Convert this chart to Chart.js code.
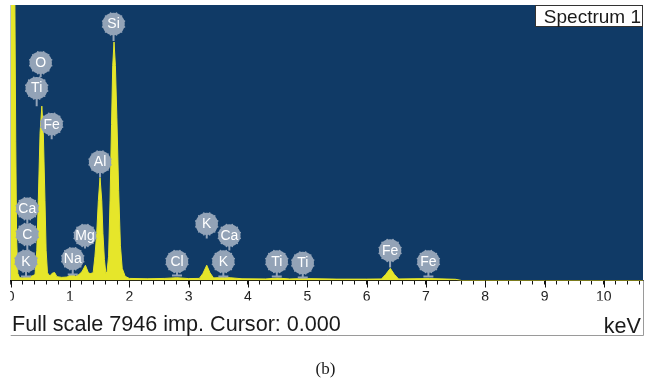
<!DOCTYPE html>
<html><head><meta charset="utf-8">
<style>html,body{margin:0;padding:0;background:#fff;}#wrap{width:651px;height:383px;position:relative;}canvas{display:block;}</style>
<script src="https://cdn.jsdelivr.net/npm/chart.js@4.4.1/dist/chart.umd.min.js"></script>
</head><body><div id="wrap"><canvas id="c" width="651" height="383" style="width:651px;height:383px"></canvas></div>
<script>
// Spectrum (keV, counts)
const energies = [0.00,0.06,0.085,0.10,0.12,0.15,0.20,0.26,0.30,0.36,0.41,0.44,0.465,0.495,0.525,0.55,0.578,0.597,0.62,0.66,0.70,0.74,0.78,0.86,0.95,1.00,1.04,1.09,1.15,1.20,1.26,1.31,1.34,1.39,1.42,1.45,1.478,1.506,1.535,1.555,1.58,1.605,1.625,1.65,1.675,1.70,1.72,1.742,1.765,1.79,1.82,1.85,1.88,1.93,2.00,2.30,2.60,2.80,3.00,3.18,3.24,3.305,3.36,3.42,3.60,3.70,3.90,4.30,4.50,4.70,4.93,5.50,6.00,6.25,6.32,6.40,6.47,6.54,7.06,7.50,7.60,10.66];
const counts   = [12000,11000,4000,1200,200,80,80,120,110,130,170,870,2300,4250,5030,4250,2300,870,220,130,210,230,110,90,100,150,190,120,170,250,440,220,200,220,700,1360,2310,2970,2310,1360,600,200,260,700,2300,4500,6200,6880,6200,4700,2600,1000,350,120,60,50,60,80,55,60,200,440,220,75,90,80,50,45,70,45,55,40,40,45,170,350,170,45,55,35,0,0];
const tickValues = [0,1,2,3,4,5,6,7,8,9,10];
const fullScale = 7946;
const xMin = 0, xMax = 10.66;
// Element markers
const labelNames    = ['Si','O','Ti','Fe','Al','Ca','C','K','Mg','Na','Cl','K','Ca','K','Ti','Ti','Fe','Fe'];
const labelEnergies = [1.734,0.506,0.438,0.691,1.506,0.28,0.28,0.258,1.253,1.046,2.804,3.305,3.686,3.585,4.486,4.924,6.396,7.042];
const labelCounts   = [7398,6280,5549,4508,3419,2072,1329,558,1300,627,549,1633,1300,549,549,506,867,549];
const stemEndCounts = [6907,5867,5029,4075,2977,1647,867,116,925,173,145,1214,867,116,116,87,376,116];
const labelMarkers  = [false,false,false,false,false,false,false,true,false,true,true,false,false,true,true,true,false,true];

const NAVY = '#103a66', YELLOW = '#e6e62a', BADGE = '#93a3b7';
const SANS = '"Liberation Sans", Arial, sans-serif';

const deco = {
  id: 'deco',
  beforeDraw(chart) {
    const {ctx, chartArea: a} = chart;
    ctx.save();
    ctx.fillStyle = '#fff';
    ctx.fillRect(0, 0, chart.width, chart.height);
    ctx.fillStyle = NAVY;
    ctx.fillRect(a.left, a.top, a.right - a.left, a.bottom - a.top);
    ctx.restore();
  },
  afterDatasetsDraw(chart) {
    const {ctx, chartArea: a, scales: {x, y}} = chart;
    ctx.save();
    ctx.beginPath(); ctx.rect(a.left, a.top, a.right - a.left, a.bottom - a.top); ctx.clip();
    const R = 11.2;
    // stems
    ctx.strokeStyle = BADGE; ctx.lineWidth = 2;
    for (let i = 0; i < labelNames.length; i++) {
      const px = x.getPixelForValue(labelEnergies[i]);
      const cy = y.getPixelForValue(labelCounts[i]);
      const ey = y.getPixelForValue(stemEndCounts[i]);
      ctx.beginPath(); ctx.moveTo(px, cy); ctx.lineTo(px, ey); ctx.stroke();
      if (labelMarkers[i]) {
        ctx.beginPath(); ctx.moveTo(px - 5, ey); ctx.lineTo(px + 5, ey); ctx.stroke();
      }
    }
    // badges
    for (let i = 0; i < labelNames.length; i++) {
      const px = x.getPixelForValue(labelEnergies[i]);
      const cy = y.getPixelForValue(labelCounts[i]);
      ctx.fillStyle = BADGE;
      ctx.beginPath(); ctx.arc(px, cy, R, 0, Math.PI * 2); ctx.fill();
      for (let k = 0; k < 12; k++) {
        const ang = k * Math.PI / 6 + Math.PI / 12;
        ctx.beginPath(); ctx.arc(px + Math.cos(ang) * R, cy + Math.sin(ang) * R, 0.9, 0, Math.PI * 2); ctx.fill();
      }
      ctx.fillStyle = '#fff';
      ctx.font = '14px ' + SANS;
      ctx.textAlign = 'center'; ctx.textBaseline = 'middle';
      ctx.fillText(labelNames[i], px, cy + 0.5);
    }
    ctx.restore();
  },
  afterDraw(chart) {
    const {ctx, chartArea: a, scales: {x}} = chart;
    ctx.save();
    // major ticks
    ctx.strokeStyle = '#111'; ctx.lineWidth = 1;
    tickValues.forEach(v => {
      const px = Math.round(x.getPixelForValue(v)) + 0.5;
      ctx.beginPath(); ctx.moveTo(px, a.bottom); ctx.lineTo(px, a.bottom + 7); ctx.stroke();
    });
    // cover left of panel
    ctx.fillStyle = '#fff';
    ctx.fillRect(0, a.bottom + 1, a.left - 0.5, 30);
    // frame
    ctx.strokeStyle = '#9a9a9a'; ctx.lineWidth = 1;
    ctx.beginPath();
    ctx.moveTo(a.right + 0.5, a.bottom); ctx.lineTo(a.right + 0.5, 335.5); ctx.lineTo(a.left, 335.5);
    ctx.stroke();
    // Spectrum 1 box
    ctx.fillStyle = '#fff';
    ctx.fillRect(535, 5, a.right - 535, 22);
    ctx.strokeStyle = '#333';
    ctx.strokeRect(535.5, 5.5, a.right - 536, 21);
    ctx.fillStyle = '#1a1a1a';
    ctx.font = '19px ' + SANS;
    ctx.textAlign = 'right'; ctx.textBaseline = 'alphabetic';
    ctx.fillText('Spectrum 1', a.right - 2, 23);
    // bottom texts
    ctx.font = '21.6px ' + SANS;
    ctx.textAlign = 'left';
    ctx.fillText('Full scale 7946 imp. Cursor: 0.000', 12, 331);
    ctx.textAlign = 'right';
    ctx.fillText('keV', a.right - 2, 333);
    ctx.font = '17px "Liberation Serif", "Times New Roman", serif';
    ctx.textAlign = 'center';
    ctx.fillText('(b)', 325.5, 374);
    ctx.restore();
  }
};

new Chart(document.getElementById('c'), {
  type: 'line',
  data: {
    datasets: [{
      data: energies.map((e, i) => ({x: e, y: counts[i]})),
      borderColor: YELLOW,
      backgroundColor: YELLOW,
      borderWidth: 1,
      fill: 'origin',
      pointRadius: 0,
      tension: 0
    }]
  },
  options: {
    responsive: false,
    animation: false,
    events: [],
    layout: {padding: {left: 10.7, right: 8, top: 5, bottom: 82.5}},
    plugins: {legend: {display: false}, tooltip: {enabled: false}},
    scales: {
      x: {
        type: 'linear', min: xMin, max: xMax,
        afterFit(s) { s.height = 20; },
        border: {display: true, color: '#111', width: 1},
        grid: {drawOnChartArea: false, drawTicks: true, tickLength: 4, tickColor: '#111'},
        ticks: {
          stepSize: 0.2, includeBounds: false, autoSkip: false, maxRotation: 0,
          padding: 4, color: '#222', font: {family: SANS, size: 14},
          callback(v) { return Math.abs(v - Math.round(v)) < 1e-6 ? String(Math.round(v)) : ''; }
        }
      },
      y: {type: 'linear', min: 0, max: fullScale, display: false}
    }
  },
  plugins: [deco]
});
</script>
</body></html>
